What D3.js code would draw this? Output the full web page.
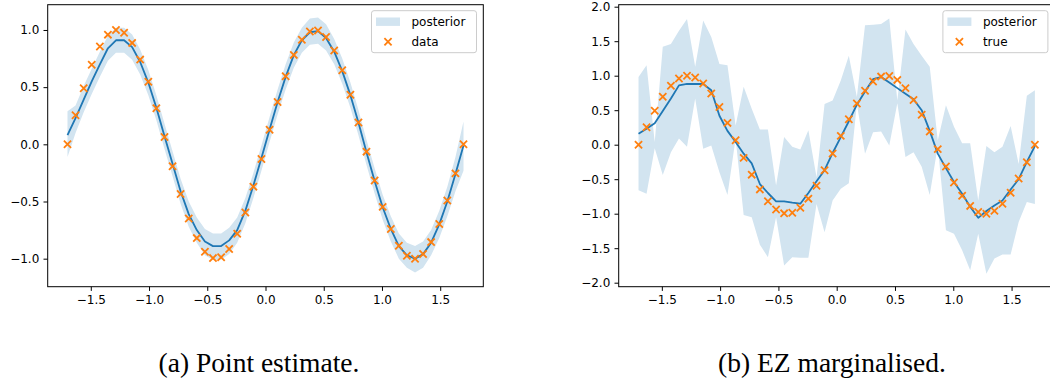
<!DOCTYPE html>
<html>
<head>
<meta charset="utf-8">
<script src="https://cdn.jsdelivr.net/npm/d3@7"></script>
<style>
  body { margin: 0; background: #fff; }
  svg { display: block; }
</style>
</head>
<body>
<div id="chart"></div>
<script>
// 50 input locations shared by both panels
const xs = [-1.700, -1.631, -1.561, -1.492, -1.422, -1.353, -1.284, -1.214, -1.145, -1.076,
  -1.006, -0.937, -0.867, -0.798, -0.729, -0.659, -0.590, -0.520, -0.451, -0.381,
  -0.312, -0.243, -0.173, -0.104, -0.035, 0.035, 0.104, 0.173, 0.243, 0.312,
  0.381, 0.451, 0.520, 0.590, 0.659, 0.729, 0.798, 0.867, 0.937, 1.006,
  1.076, 1.145, 1.214, 1.284, 1.353, 1.422, 1.492, 1.561, 1.631, 1.700];

// observed / true values (orange crosses)
const trueY = [0.000, 0.254, 0.491, 0.696, 0.855, 0.959, 1.000, 0.975, 0.887, 0.741,
  0.547, 0.316, 0.064, -0.191, -0.434, -0.648, -0.820, -0.939, -0.995, -0.987,
  -0.915, -0.782, -0.596, -0.370, -0.128, 0.128, 0.370, 0.596, 0.782, 0.915,
  0.987, 0.995, 0.939, 0.820, 0.648, 0.434, 0.191, -0.064, -0.316, -0.547,
  -0.741, -0.887, -0.975, -1.000, -0.959, -0.855, -0.696, -0.491, -0.254, 0.000];

// (a) point estimate
const meanA = [0.08, 0.23, 0.39, 0.55, 0.70, 0.84, 0.91, 0.91, 0.85, 0.72,
  0.54, 0.32, 0.07, -0.17, -0.41, -0.61, -0.75, -0.85, -0.89, -0.89,
  -0.84, -0.75, -0.58, -0.36, -0.12, 0.13, 0.37, 0.59, 0.78, 0.91,
  0.98, 0.99, 0.93, 0.81, 0.64, 0.43, 0.19, -0.07, -0.32, -0.55,
  -0.74, -0.89, -0.97, -1.00, -0.96, -0.86, -0.70, -0.50, -0.26, -0.01];
const upperA = [0.29, 0.34, 0.51, 0.66, 0.81, 0.95, 1.02, 1.02, 0.96, 0.83,
  0.65, 0.43, 0.18, -0.06, -0.30, -0.50, -0.64, -0.74, -0.78, -0.78,
  -0.73, -0.64, -0.47, -0.25, -0.01, 0.24, 0.48, 0.70, 0.89, 1.02,
  1.10, 1.11, 1.05, 0.92, 0.75, 0.54, 0.30, 0.04, -0.21, -0.44,
  -0.63, -0.78, -0.86, -0.89, -0.85, -0.75, -0.58, -0.37, -0.11, 0.20];
const lowerA = [-0.11, 0.10, 0.28, 0.44, 0.59, 0.73, 0.80, 0.80, 0.74, 0.61,
  0.43, 0.21, -0.04, -0.28, -0.52, -0.72, -0.86, -0.97, -1.01, -1.01,
  -0.96, -0.86, -0.69, -0.47, -0.23, 0.02, 0.26, 0.48, 0.67, 0.80,
  0.87, 0.88, 0.82, 0.70, 0.53, 0.32, 0.08, -0.18, -0.43, -0.66,
  -0.85, -1.00, -1.08, -1.12, -1.08, -0.97, -0.82, -0.63, -0.41, -0.23];

// (b) EZ marginalised
const meanB = [0.16, 0.23, 0.31, 0.49, 0.67, 0.86, 0.88, 0.88, 0.88, 0.79,
  0.42, 0.20, 0.04, -0.13, -0.27, -0.57, -0.70, -0.82, -0.82, -0.84,
  -0.855, -0.70, -0.53, -0.37, -0.12, 0.11, 0.34, 0.58, 0.77, 0.95,
  0.98, 0.90, 0.82, 0.74, 0.66, 0.50, 0.20, -0.13, -0.34, -0.54,
  -0.71, -0.90, -1.06, -0.96, -0.88, -0.81, -0.65, -0.50, -0.25, -0.02];
const upperB = [0.98, 1.15, 0.04, 1.42, 1.46, 1.65, 1.82, 1.13, 1.80, 1.56,
  1.17, 1.15, 0.28, 0.84, 0.52, 0.22, 0.22, -0.59, 0.11, -0.03,
  -0.07, 0.21, -0.47, 0.59, 0.64, 0.93, 1.29, 0.69, 1.73, 1.74,
  1.75, 1.83, 0.64, 1.67, 1.46, 1.29, 1.13, 0.06, 0.57, 0.26,
  0.02, 0.02, -0.81, -0.02, -0.11, -0.03, 0.27, -0.28, 0.71, 0.79];
const lowerB = [-0.66, -0.71, -0.05, -0.44, -0.11, 0.09, -0.03, 0.67, -0.06, -0.01,
  -0.40, -0.73, 0.09, -1.02, -1.05, -1.45, -1.63, -1.05, -1.75, -1.63,
  -1.64, -1.64, -0.86, -1.27, -0.81, -0.64, -0.56, 0.59, -0.13, 0.18,
  0.19, -0.01, 0.60, -0.18, -0.11, -0.32, -0.73, -0.02, -1.24, -1.29,
  -1.53, -1.82, -1.29, -1.87, -1.65, -1.59, -1.59, -1.12, -0.83, -0.86];

const xTicks = [-1.5, -1.0, -0.5, 0.0, 0.5, 1.0, 1.5];
const yTicksA = [-1.0, -0.5, 0.0, 0.5, 1.0];
const yTicksB = [-2.0, -1.5, -1.0, -0.5, 0.0, 0.5, 1.0, 1.5, 2.0];

const BLUE = "#1f77b4";
const ORANGE = "#ff7f0e";
const BAND = "#d2e4f0";
const FONT = "'DejaVu Sans', sans-serif";

const W = 1050, H = 384;
const svg = d3.select("#chart").append("svg")
  .attr("width", W)
  .attr("height", H);

function drawPanel(opts) {
  const x = d3.scaleLinear().domain([-1.87, 1.87]).range([opts.left, opts.right]);
  const y = d3.scaleLinear().domain(opts.yDomain).range([opts.bottom, opts.top]);
  const g = svg.append("g");

  const rows = xs.map((d, i) => ({ x: d, t: trueY[i], m: opts.mean[i], lo: opts.lower[i], hi: opts.upper[i] }));

  // posterior band
  g.append("path")
    .datum(rows)
    .attr("fill", BAND)
    .attr("d", d3.area().x(d => x(d.x)).y0(d => y(d.lo)).y1(d => y(d.hi)));

  // mean line
  g.append("path")
    .datum(rows)
    .attr("fill", "none")
    .attr("stroke", BLUE)
    .attr("stroke-width", 1.8)
    .attr("stroke-linejoin", "round")
    .attr("d", d3.line().x(d => x(d.x)).y(d => y(d.m)));

  // crosses
  const s = 3.6;
  g.selectAll("path.mark")
    .data(rows)
    .join("path")
    .attr("class", "mark")
    .attr("stroke", ORANGE)
    .attr("stroke-width", 1.8)
    .attr("d", d => {
      const cx = x(d.x), cy = y(d.t);
      return `M${cx - s},${cy - s}L${cx + s},${cy + s}M${cx - s},${cy + s}L${cx + s},${cy - s}`;
    });

  // axes
  const fmt = d3.format(".1f");
  const ax = g.append("g")
    .attr("transform", `translate(0,${opts.bottom})`)
    .call(d3.axisBottom(x).tickValues(xTicks).tickFormat(fmt).tickSize(4.2).tickPadding(4.2).tickSizeOuter(0));
  const ay = g.append("g")
    .attr("transform", `translate(${opts.left},0)`)
    .call(d3.axisLeft(y).tickValues(opts.yTicks).tickFormat(fmt).tickSize(4.2).tickPadding(4.2).tickSizeOuter(0));
  [ax, ay].forEach(a => {
    a.select(".domain").remove();
    a.selectAll(".tick line").attr("stroke", "#000").attr("stroke-width", 1);
    a.selectAll(".tick text").attr("fill", "#000").style("font-family", FONT).style("font-size", "12px");
  });

  // frame
  g.append("rect")
    .attr("x", opts.left)
    .attr("y", opts.top)
    .attr("width", opts.right - opts.left)
    .attr("height", opts.bottom - opts.top)
    .attr("fill", "none")
    .attr("stroke", "#000")
    .attr("stroke-width", 1);

  // legend
  const lx = opts.right - 6.8 - 105, ly = 10.7;
  const lg = g.append("g").attr("transform", `translate(${lx},${ly})`);
  lg.append("rect")
    .attr("width", 105)
    .attr("height", 42)
    .attr("rx", 2.5)
    .attr("fill", "#fff")
    .attr("fill-opacity", 0.8)
    .attr("stroke", "#cccccc")
    .attr("stroke-width", 1);
  lg.append("rect")
    .attr("x", 4.5)
    .attr("y", 6.8)
    .attr("width", 24)
    .attr("height", 8.4)
    .attr("fill", BAND);
  const mx = 16.5, my = 31;
  lg.append("path")
    .attr("stroke", ORANGE)
    .attr("stroke-width", 1.8)
    .attr("d", `M${mx - s},${my - s}L${mx + s},${my + s}M${mx - s},${my + s}L${mx + s},${my - s}`);
  lg.selectAll("text")
    .data(["posterior", opts.label])
    .join("text")
    .attr("x", 40)
    .attr("y", (d, i) => 15.3 + i * 20)
    .style("font-family", FONT)
    .style("font-size", "12px")
    .attr("fill", "#000")
    .text(d => d);

  // caption
  svg.append("text")
    .attr("x", opts.capX)
    .attr("y", 372)
    .attr("text-anchor", "middle")
    .style("font-family", "'Liberation Serif', serif")
    .style("font-size", "27.5px")
    .attr("fill", "#000")
    .text(opts.caption);
}

drawPanel({
  left: 47.7, right: 483.3, top: 4.7, bottom: 286.7,
  yDomain: [-1.245, 1.221], yTicks: yTicksA,
  mean: meanA, upper: upperA, lower: lowerA,
  label: "data", caption: "(a) Point estimate.", capX: 259
});

drawPanel({
  left: 618.7, right: 1054.7, top: 4.7, bottom: 286.7,
  yDomain: [-2.058, 2.029], yTicks: yTicksB,
  mean: meanB, upper: upperB, lower: lowerB,
  label: "true", caption: "(b) EZ marginalised.", capX: 832
});
</script>
</body>
</html>
